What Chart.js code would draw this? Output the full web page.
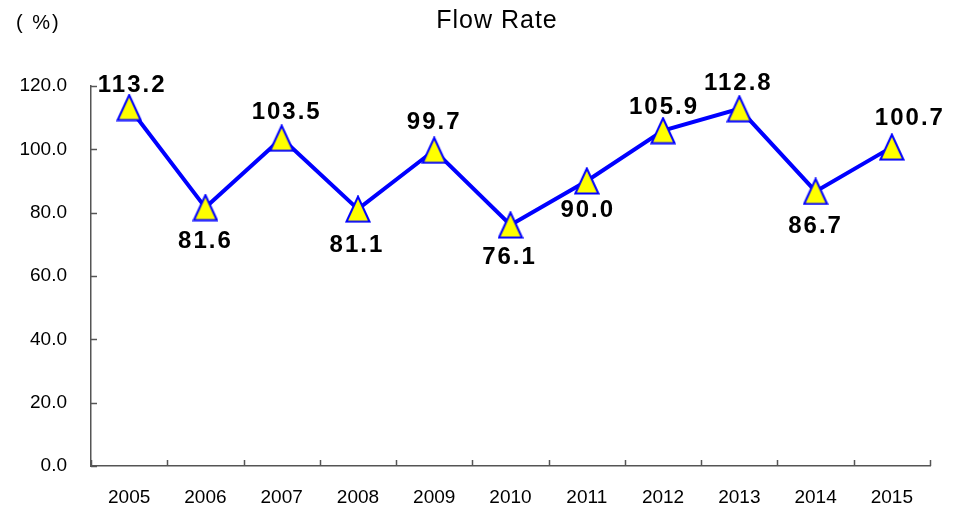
<!DOCTYPE html>
<html>
<head>
<meta charset="utf-8">
<script src="https://cdn.jsdelivr.net/npm/chart.js@4/dist/chart.umd.min.js"></script>
<style>
html,body{margin:0;padding:0;background:#fff;}
#wrap{width:960px;height:512px;}
</style>
</head>
<body>
<div id="wrap"><canvas id="c" width="960" height="512"></canvas></div>
<script>
const categories = ['2005','2006','2007','2008','2009','2010','2011','2012','2013','2014','2015'];
const flowRate = [113.2, 81.6, 103.5, 81.1, 99.7, 76.1, 90.0, 105.9, 112.8, 86.7, 100.7];
const yTicks = [0, 20, 40, 60, 80, 100, 120];
const chartTitle = 'Flow Rate';
const unitLabel = '( %)';

// label placement (style only)
const labelOffsets = [[2,-22],[-1,34],[4,-26],[-2,36],[-1,-28],[-2,32],[0,29],[0,-23],[-2,-25],[-1,35],[17,-29]];

const FONT = "'Liberation Sans', Arial, sans-serif";

// marker glyph: yellow triangle with blue outline
const marker = document.createElement('canvas');
marker.width = 26; marker.height = 28;
(function () {
  const m = marker.getContext('2d');
  m.beginPath();
  m.moveTo(13, 1.5); m.lineTo(24.5, 26.5); m.lineTo(1.5, 26.5); m.closePath();
  m.fillStyle = '#ffff00'; m.fill();
  m.strokeStyle = '#0000ff'; m.lineWidth = 2; m.lineJoin = 'miter'; m.stroke();
})();

const decorPlugin = {
  id: 'decor',
  afterDraw(chart) {
    const ctx = chart.ctx;
    const xs = chart.scales.x, ys = chart.scales.y;
    ctx.save();
    ctx.strokeStyle = '#555';
    ctx.lineWidth = 1.5;
    const bottom = ys.bottom, left = xs.left;
    const step = xs.getPixelForValue(1) - xs.getPixelForValue(0);
    for (let i = 0; i <= categories.length; i++) {
      const px = Math.round(xs.getPixelForValue(i) - step / 2) + 0.5;
      ctx.beginPath(); ctx.moveTo(px, bottom); ctx.lineTo(px, bottom - 6); ctx.stroke();
    }
    yTicks.forEach(v => {
      const py = Math.round(ys.getPixelForValue(v)) + 0.5;
      ctx.beginPath(); ctx.moveTo(left, py); ctx.lineTo(left + 6, py); ctx.stroke();
    });
    ctx.fillStyle = '#000';
    ctx.textBaseline = 'middle';
    ctx.textAlign = 'center';
    ctx.font = "25px " + FONT;
    ctx.letterSpacing = '1px';
    ctx.fillText(chartTitle, 497, 21);
    ctx.textAlign = 'left';
    ctx.font = "20px " + FONT;
    ctx.letterSpacing = '2px';
    ctx.fillText(unitLabel, 16, 23);
    ctx.restore();
  },
  afterDatasetsDraw(chart) {
    const ctx = chart.ctx;
    const meta = chart.getDatasetMeta(0);
    ctx.save();
    ctx.fillStyle = '#000';
    ctx.font = "bold 24px " + FONT;
    ctx.letterSpacing = '2px';
    ctx.textAlign = 'center';
    ctx.textBaseline = 'middle';
    meta.data.forEach((pt, i) => {
      const o = labelOffsets[i];
      ctx.fillText(flowRate[i].toFixed(1), pt.x + o[0] + 1, pt.y + o[1]);
    });
    ctx.restore();
  }
};

new Chart(document.getElementById('c'), {
  type: 'line',
  data: {
    labels: categories,
    datasets: [{
      data: flowRate,
      borderColor: '#0000ff',
      borderWidth: 4,
      pointStyle: marker,
      pointRadius: 13,
      tension: 0
    }]
  },
  options: {
    responsive: false,
    animation: false,
    layout: { padding: { left: 0, right: 30, top: 86, bottom: 0 } },
    plugins: { legend: { display: false }, title: { display: false }, tooltip: { enabled: false } },
    scales: {
      x: {
        offset: true,
        afterFit(s) { s.height = 46; },
        grid: { display: false, drawTicks: false },
        border: { display: true, color: '#555', width: 1.5 },
        ticks: { color: '#000', font: { family: FONT, size: 19 }, padding: 20 }
      },
      y: {
        min: 0, max: 120,
        afterFit(s) { s.width = 91; },
        afterBuildTicks(s) { s.ticks = yTicks.map(v => ({ value: v })); },
        grid: { display: false, drawTicks: false },
        border: { display: true, color: '#555', width: 1.5 },
        ticks: { color: '#000', font: { family: FONT, size: 19 }, padding: 24,
                 callback: v => Number(v).toFixed(1) }
      }
    }
  },
  plugins: [decorPlugin]
});
</script>
</body>
</html>
